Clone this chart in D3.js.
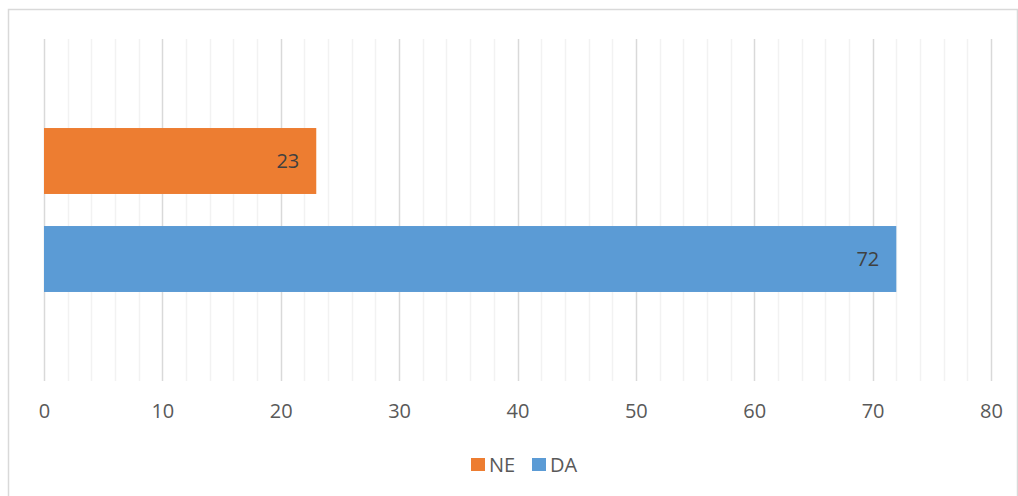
<!DOCTYPE html>
<html>
<head>
<meta charset="utf-8">
<script src="https://cdn.jsdelivr.net/npm/d3@7"></script>
<style>
  body { margin: 0; background: #fff; }
  svg { display: block; font-family: "Open Sans", "Noto Sans", sans-serif; }
</style>
</head>
<body>
<svg id="chart" width="1018" height="496"></svg>
<script>
// Data
// ----
var categories = ["Q"];
var seriesNames = ["NE", "DA"];
var seriesValues = [23, 72];
var seriesColors = ["#ed7d31", "#5b9bd5"];
var xTicks = [0, 10, 20, 30, 40, 50, 60, 70, 80];

var svg = d3.select("#chart");
var W = 1018, H = 496;
var plot = {left: 44, right: 991, top: 39, bottom: 381};
var fontSize = 20;

// Outer frame
// -----------
svg.append("rect")
  .attr("x", 8.5).attr("y", 9.5)
  .attr("width", W - 9).attr("height", H - 8)
  .attr("fill", "#fff")
  .attr("stroke", "#d9d9d9")
  .attr("stroke-width", 1.5);

// Scales
// ------
var x = d3.scaleLinear().domain([0, 80]).range([plot.left, plot.right]);

var y0 = d3.scaleBand().domain(categories)
  .range([plot.top, plot.bottom])
  .paddingInner(0).paddingOuter(0.543);

var y1 = d3.scaleBand().domain(seriesNames)
  .range([0, y0.bandwidth()])
  .paddingInner(0.327).paddingOuter(0);

// Gridlines
// ---------
var minor = d3.range(0, 81, 2);
svg.append("g").selectAll("line")
  .data(minor)
  .enter().append("line")
  .attr("x1", function(d) { return Math.round(x(d)) + 0.5; })
  .attr("x2", function(d) { return Math.round(x(d)) + 0.5; })
  .attr("y1", plot.top).attr("y2", plot.bottom)
  .attr("stroke", function(d) { return d % 10 === 0 ? "#d9d9d9" : "#f2f2f2"; })
  .attr("stroke-width", 1.5);

// Bars
// ----
var bars = svg.append("g");
categories.forEach(function(cat) {
  seriesNames.forEach(function(name, i) {
    bars.append("rect")
      .attr("x", x(0))
      .attr("y", y0(cat) + y1(name))
      .attr("width", x(seriesValues[i]) - x(0))
      .attr("height", y1.bandwidth())
      .attr("fill", seriesColors[i]);

    bars.append("text")
      .attr("x", x(seriesValues[i]) - 17)
      .attr("y", y0(cat) + y1(name) + y1.bandwidth() / 2)
      .attr("dy", "0.35em")
      .attr("text-anchor", "end")
      .attr("font-size", fontSize)
      .attr("fill", "#404040")
      .text(seriesValues[i]);
  });
});

// X axis labels
// -------------
var xAxis = d3.axisBottom(x).tickValues(xTicks).tickSize(0).tickPadding(23);
var gx = svg.append("g")
  .attr("transform", "translate(0," + plot.bottom + ")")
  .call(xAxis);
gx.select(".domain").remove();
gx.selectAll("text")
  .attr("font-family", "\"Open Sans\", \"Noto Sans\", sans-serif")
  .attr("font-size", fontSize)
  .attr("fill", "#595959");

// Legend
// ------
var legendItems = [{name: "NE", color: "#ed7d31", x: 471}, {name: "DA", color: "#5b9bd5", x: 532}];
var legend = svg.append("g");
legendItems.forEach(function(d) {
  legend.append("rect")
    .attr("x", d.x).attr("y", 458)
    .attr("width", 14).attr("height", 13)
    .attr("fill", d.color);
  legend.append("text")
    .attr("x", d.x + 18).attr("y", 465)
    .attr("dy", "0.35em")
    .attr("font-size", fontSize)
    .attr("fill", "#595959")
    .text(d.name);
});
</script>
</body>
</html>
